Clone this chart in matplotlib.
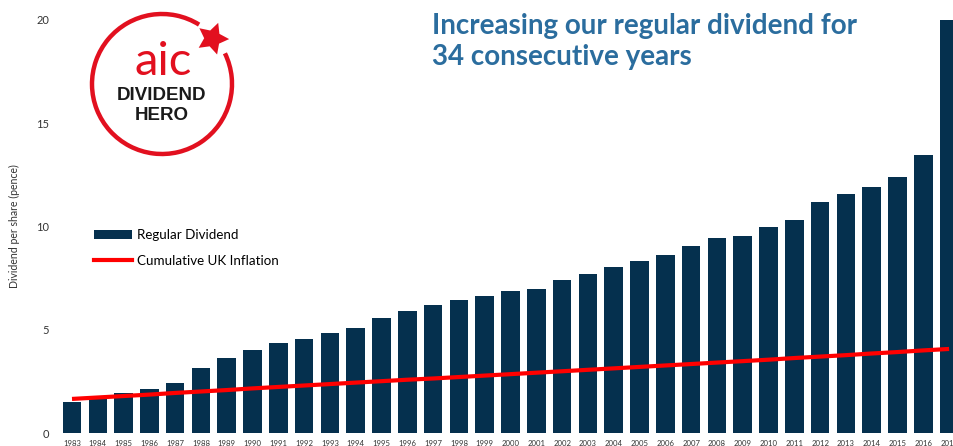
import matplotlib
matplotlib.use("Agg")
import matplotlib.pyplot as plt
from matplotlib.patches import Arc, Patch
from matplotlib.lines import Line2D

# data
years = [str(y) for y in range(1983, 2018)]
dividend = [1.50, 1.65, 1.94, 2.13, 2.42, 3.15, 3.63, 4.02, 4.36, 4.55,
            4.84, 5.09, 5.57, 5.91, 6.20, 6.44, 6.64, 6.88, 6.98, 7.41,
            7.70, 8.04, 8.33, 8.62, 9.06, 9.45, 9.54, 9.98, 10.30, 11.20,
            11.58, 11.92, 12.40, 13.47, 20.0]
inflation = [1.65, 1.72, 1.79, 1.86, 1.94, 2.01, 2.08, 2.16, 2.23, 2.30,
             2.37, 2.44, 2.51, 2.58, 2.64, 2.71, 2.78, 2.85, 2.92, 2.99,
             3.06, 3.13, 3.20, 3.27, 3.34, 3.41, 3.48, 3.55, 3.63, 3.70,
             3.77, 3.85, 3.92, 4.00, 4.07]
yticks = [0, 5, 10, 15, 20]

W, H = 954, 446
bar_color = '#05304e'
red = '#ff0000'
logo_red = '#e2101f'
title_blue = '#2b6d9e'

fig = plt.figure(figsize=(W / 100, H / 100), dpi=100)
ax = fig.add_axes([56 / W, 13 / H, (W - 56) / W, (433 - 20) / H])

x = list(range(len(years)))
ax.bar(x, dividend, width=0.72, color=bar_color, zorder=2)
ax.plot(x, inflation, color=red, lw=3, solid_capstyle='butt', zorder=3)

ax.set_xlim(-0.62, 34.19)
ax.set_ylim(0, 20)
ax.set_xticks(x)
ax.set_xticklabels(years, fontsize=5.6, color='#333333', family='Lato')
ax.set_yticks(yticks)
ax.set_yticklabels([str(t) for t in yticks], fontsize=8, color='#333333', family='Lato')
ax.tick_params(length=0)
ax.tick_params(axis='x', pad=5)
ax.tick_params(axis='y', pad=5)
for s in ax.spines.values():
    s.set_visible(False)

fig.text(14 / W, 1 - 226 / H, 'Dividend per share (pence)', rotation=90,
         ha='center', va='center', fontsize=7.6, color='#333333', family='Lato')

# title
fig.text(432 / W, 1 - 34 / H, 'Increasing our regular dividend for',
         fontsize=20, fontweight='bold', color=title_blue, family='Lato',
         ha='left', va='baseline')
fig.text(432 / W, 1 - 65 / H, '34 consecutive years',
         fontsize=20, fontweight='bold', color=title_blue, family='Lato',
         ha='left', va='baseline')

# legend
handles = [Patch(facecolor=bar_color, edgecolor='none'),
           Line2D([0], [0], color=red, lw=3)]
fig.legend(handles, ['Regular Dividend', 'Cumulative UK Inflation'],
           loc='upper left', bbox_to_anchor=(94 / W, 1 - 229 / H),
           frameon=False, prop={'family': 'Lato', 'size': 9.6},
           handlelength=2.85, handletextpad=0.4, labelspacing=1.05,
           borderaxespad=0, borderpad=0)

# logo (pixel coordinates, y up)
lg = fig.add_axes([0, 0, 1, 1])
lg.set_xlim(0, W)
lg.set_ylim(0, H)
lg.axis('off')
cx, cy = 162, H - 84
lg.add_patch(Arc((cx, cy), 140, 140, theta1=58, theta2=386,
                 color=logo_red, lw=3.2))
lg.plot([212], [H - 38], marker=(5, 1, -20), markersize=24,
        color=logo_red, markeredgewidth=0)
lg.text(cx + 1, H - 75, 'aic', color=logo_red, fontsize=34,
        family='Lato', ha='center', va='baseline')
lg.text(cx, H - 95, 'DIVIDEND', color='#1a1a1a', fontsize=13.5,
        fontweight='bold', family='Liberation Sans', ha='center', va='center')
lg.text(cx, H - 115, 'HERO', color='#1a1a1a', fontsize=13.5,
        fontweight='bold', family='Liberation Sans', ha='center', va='center')

fig.savefig('out.png', dpi=100)
